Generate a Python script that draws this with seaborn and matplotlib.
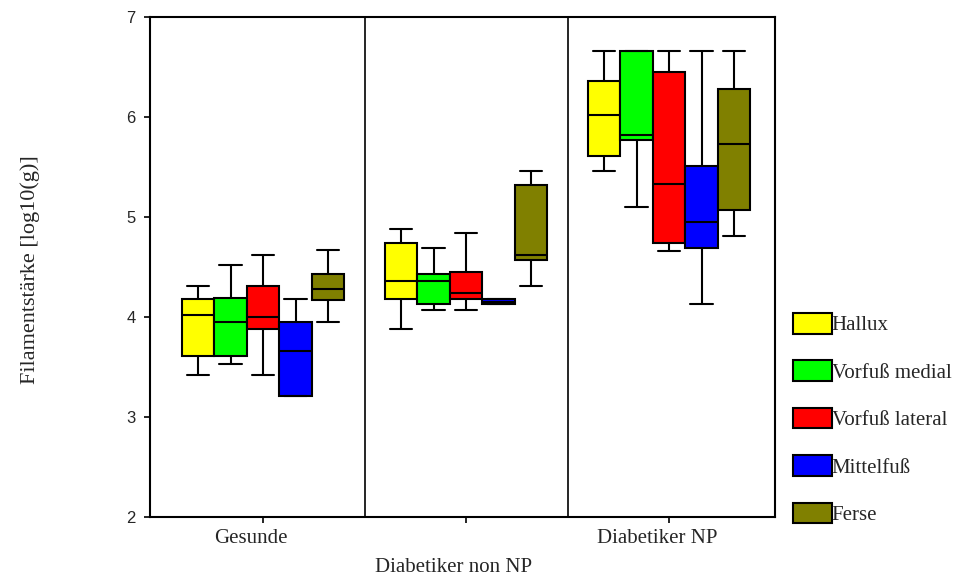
import matplotlib
matplotlib.use("Agg")
import matplotlib.pyplot as plt
import matplotlib.transforms as mtransforms
import seaborn as sns
import pandas as pd

# ---- data: per site, per group [min, q1, median, q3, max] ----
groups = ["Gesunde", "Diabetiker non NP", "Diabetiker NP"]
sites = ["Hallux", "Vorfuß medial", "Vorfuß lateral", "Mittelfuß", "Ferse"]
colors = ["#FFFF00", "#00FF00", "#FF0000", "#0000FF", "#808000"]

hallux = [[3.42, 3.61, 4.02, 4.18, 4.31],
          [3.88, 4.18, 4.36, 4.74, 4.88],
          [5.46, 5.61, 6.02, 6.36, 6.66]]
vorfuss_medial = [[3.53, 3.61, 3.95, 4.19, 4.52],
                  [4.07, 4.13, 4.36, 4.43, 4.69],
                  [5.10, 5.77, 5.82, 6.66, 6.66]]
vorfuss_lateral = [[3.42, 3.88, 4.00, 4.31, 4.62],
                   [4.07, 4.18, 4.24, 4.45, 4.84],
                   [4.66, 4.74, 5.33, 6.45, 6.66]]
mittelfuss = [[3.21, 3.21, 3.66, 3.95, 4.18],
              [4.13, 4.13, 4.15, 4.18, 4.18],
              [4.13, 4.69, 4.95, 5.51, 6.66]]
ferse = [[3.95, 4.17, 4.28, 4.43, 4.67],
         [4.31, 4.57, 4.62, 5.32, 5.46],
         [4.81, 5.07, 5.73, 6.28, 6.66]]

y_ticks = [2, 3, 4, 5, 6, 7]
y_label = "Filamentstärke [log10(g)]"

series = [hallux, vorfuss_medial, vorfuss_lateral, mittelfuss, ferse]
rows = []
for site, vals in zip(sites, series):
    for g, five in zip(groups, vals):
        for v in five:
            rows.append({"group": g, "site": site, "value": v})
df = pd.DataFrame(rows)

sns.set_style("white")
plt.rcParams["font.family"] = ["Liberation Serif", "DejaVu Serif"]

fig = plt.figure(figsize=(9.69, 5.80), dpi=100)
ax = fig.add_axes([150 / 969, 1 - 516.7 / 580, 625 / 969, 500 / 580])

sns.boxplot(data=df, x="group", y="value", hue="site", order=groups,
            hue_order=sites, palette=dict(zip(sites, colors)), saturation=1,
            whis=(0, 100), width=0.8, gap=0, linecolor="black", linewidth=1.5,
            capwidths=0.11, ax=ax)

ax.set_ylim(2, 7)
ax.set_xlim(-0.557, 2.522)
ax.set_yticks(y_ticks)
ax.set_yticklabels([str(t) for t in y_ticks], family="Liberation Sans", fontsize=12)
ax.set_xlabel("")
ax.set_ylabel("")
for xv in [0.5, 1.5]:
    ax.axvline(xv, color="black", lw=1.2, zorder=1)

for s in ax.spines.values():
    s.set_visible(True)
    s.set_color("black")
    s.set_linewidth(1.5)
ax.tick_params(axis="both", direction="out", length=4.5, width=1.2, color="black",
               left=True, bottom=True)
ax.tick_params(axis="y", pad=6)
ax.tick_params(axis="x", pad=4)

ax.set_xticks(range(len(groups)))
ax.set_xticklabels(groups, fontsize=15, family="Liberation Serif")
for i, lab in enumerate(ax.get_xticklabels()):
    dy = -29 / 100 if i == 1 else 0
    lab.set_transform(lab.get_transform() +
                      mtransforms.ScaledTranslation(-12 / 100, dy, fig.dpi_scale_trans))

fig.text(30 / 969, 1 - 270 / 580, y_label, rotation=90, ha="center", va="center",
         fontsize=16, family="Liberation Serif")

old = ax.get_legend()
handles = old.legend_handles
labels = [t.get_text() for t in old.get_texts()]
old.remove()
for h in handles:
    h.set_edgecolor("black")
    h.set_linewidth(1.5)
ax.legend(handles, labels, loc="center left", bbox_to_anchor=(793 / 969, 1 - 419 / 580),
          bbox_transform=fig.transFigure, frameon=False, borderpad=0, borderaxespad=0,
          handlelength=1.85, handleheight=1.15, handletextpad=0.0, labelspacing=1.2,
          prop={"family": "Liberation Serif", "size": 15})

fig.savefig("out.png", dpi=100)
